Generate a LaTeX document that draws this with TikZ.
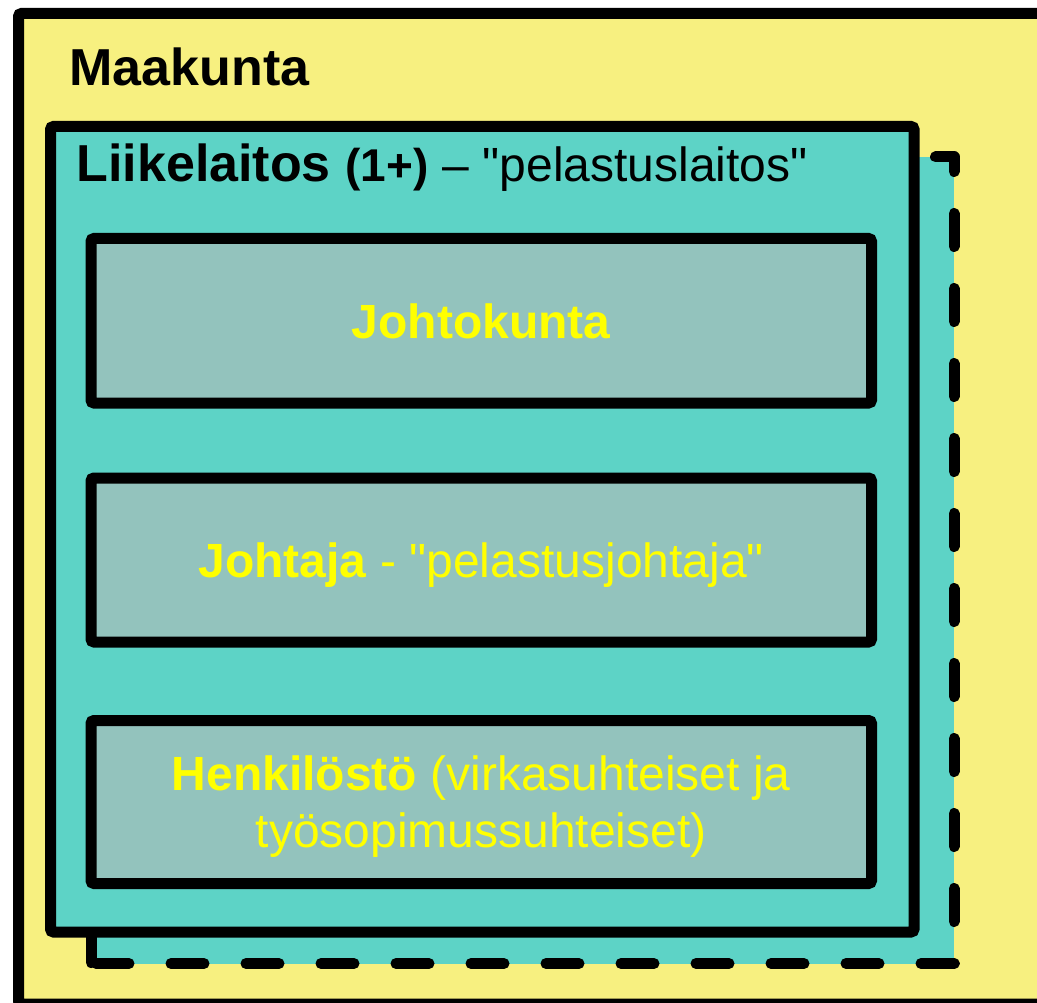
\documentclass[tikz,border=0pt]{standalone}
\usepackage{fontspec}
\setmainfont[Ligatures=TeXOff]{Liberation Sans}
\usetikzlibrary{positioning, calc}

\definecolor{maayellow}{RGB}{247,240,128}
\definecolor{laitosteal}{RGB}{93,211,198}
\definecolor{boxgrey}{RGB}{147,195,189}
\definecolor{textyellow}{RGB}{255,255,0}

\tikzset{
  frame/.style={draw=black, line width=11pt, rounded corners=3pt},
  dashframe/.style={draw=black, line width=11pt, line cap=round, line join=round,
    dash pattern=on 33pt off 42pt, dash phase=70pt},
  titletext/.style={anchor=base west, font=\fontsize{52}{60}\selectfont},
  boxtext/.style={text=textyellow, font=\fontsize{48}{57}\selectfont, align=center, text depth=0pt}
}

\begin{document}
\begin{tikzpicture}[x=1pt, y=-1pt]
    \useasboundingbox (0,0) rectangle (1037,1003);
    \clip (0,0) rectangle (1037,1003);

    % maakunta
    \draw[frame, fill=maayellow] (18.5,13.5) rectangle (1060,1004);
    \node[titletext] (maakunta) at (66,86) {\bfseries Maakunta};

    % liikelaitos, with a second one behind it
    \draw[dashframe, fill=laitosteal] (91,963.5) -- (954,963.5) -- (954,157) -- (91,157) -- cycle;
    \draw[frame, fill=laitosteal] (50.5,126.5) rectangle (914,932);
    \node[titletext] (laitos) at (73,182)
        {\bfseries Liikelaitos {\fontsize{46}{50}\selectfont (1+)}\mdseries{} {\fontsize{48}{50}\selectfont – "pelastuslaitos"}};

    % organs
    \draw[frame, fill=boxgrey] (91,238.5) rectangle (871.5,403) node[midway, boxtext] (johtokunta) {\bfseries Johtokunta};
    \draw[frame, fill=boxgrey] (91,478) rectangle (871.5,642) node[midway, boxtext] (johtaja)
        {\textbf{Johtaja} - "pelastusjohtaja"};
    \draw[frame, fill=boxgrey] (91,720.5) rectangle (871.5,883.5) node[midway, boxtext] (henkilosto)
        {\textbf{Henkilöstö} (virkasuhteiset ja\\työsopimussuhteiset)};
\end{tikzpicture}
\end{document}
